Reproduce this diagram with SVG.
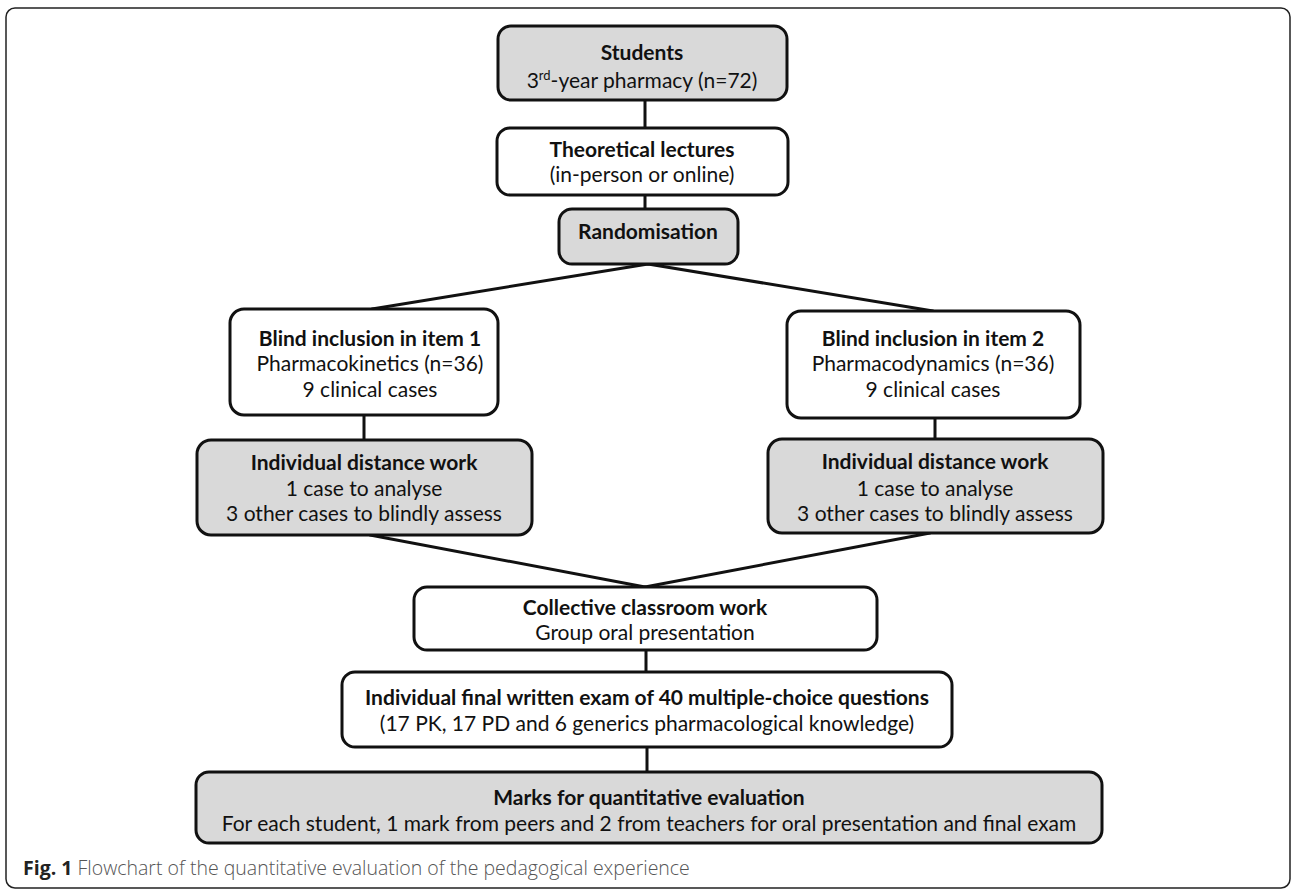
<svg xmlns="http://www.w3.org/2000/svg" width="1292" height="890" viewBox="0 0 1292 890">
<style>
.box{stroke:#111;stroke-width:3;}
.g{fill:#d9d9d9;}
.w{fill:#fff;}
.t{font-family:Lato,"Open Sans","DejaVu Sans",sans-serif;font-size:21px;fill:#111;text-anchor:middle;}
.b{font-weight:bold;}
.conn line{stroke:#111;stroke-width:3;stroke-linecap:round;}
.cap{font-family:"Open Sans","DejaVu Sans",sans-serif;font-size:19.5px;}
</style>
<rect x="6" y="8" width="1284" height="880" rx="9" fill="#fff" stroke="#222" stroke-width="1.5"/>
<g class="conn" id="connectors">
<line x1="645" y1="100" x2="645" y2="128"/>
<line x1="645" y1="195" x2="645" y2="209"/>
<line x1="648" y1="264" x2="372" y2="309"/>
<line x1="648" y1="264" x2="933" y2="311"/>
<line x1="364" y1="415" x2="364" y2="440"/>
<line x1="935" y1="418" x2="935" y2="439"/>
<line x1="370" y1="535" x2="645" y2="587"/>
<line x1="930" y1="533" x2="645" y2="587"/>
<line x1="646" y1="650" x2="646" y2="672"/>
<line x1="647" y1="747" x2="647" y2="772"/>
</g>
<g id="students">
<rect class="box g" x="498" y="26" width="289" height="74" rx="13"/>
<text class="t b" x="642" y="60">Students</text>
<text class="t" x="642" y="88">3<tspan font-size="13" dy="-8">rd</tspan><tspan dy="8">-year pharmacy (n=72)</tspan></text>
</g>
<g id="lectures">
<rect class="box w" x="497" y="128" width="291" height="67" rx="13"/>
<text class="t b" x="642" y="157">Theoretical lectures</text>
<text class="t" x="642" y="182">(in-person or online)</text>
</g>
<g id="randomisation">
<rect class="box g" x="559" y="209" width="179" height="55" rx="13"/>
<text class="t b" x="648" y="239">Randomisation</text>
</g>
<g id="item1">
<rect class="box w" x="230" y="309" width="268" height="106" rx="14"/>
<text class="t b" x="370" y="346">Blind inclusion in item 1</text>
<text class="t" x="370" y="371">Pharmacokinetics (n=36)</text>
<text class="t" x="370" y="397">9 clinical cases</text>
</g>
<g id="item2">
<rect class="box w" x="787" y="311" width="293" height="107" rx="14"/>
<text class="t b" x="933" y="346">Blind inclusion in item 2</text>
<text class="t" x="933" y="371">Pharmacodynamics (n=36)</text>
<text class="t" x="933" y="397">9 clinical cases</text>
</g>
<g id="distance1">
<rect class="box g" x="197" y="440" width="335" height="95" rx="14"/>
<text class="t b" x="364" y="470">Individual distance work</text>
<text class="t" x="364" y="496">1 case to analyse</text>
<text class="t" x="364" y="521">3 other cases to blindly assess</text>
</g>
<g id="distance2">
<rect class="box g" x="768" y="439" width="335" height="94" rx="14"/>
<text class="t b" x="935" y="469">Individual distance work</text>
<text class="t" x="935" y="496">1 case to analyse</text>
<text class="t" x="935" y="521">3 other cases to blindly assess</text>
</g>
<g id="collective">
<rect class="box w" x="414" y="587" width="463" height="63" rx="13"/>
<text class="t b" x="645" y="615">Collective classroom work</text>
<text class="t" x="645" y="640">Group oral presentation</text>
</g>
<g id="exam">
<rect class="box w" x="342" y="672" width="610" height="75" rx="13"/>
<text class="t b" x="647" y="705">Individual final written exam of 40 multiple-choice questions</text>
<text class="t" x="647" y="731">(17 PK, 17 PD and 6 generics pharmacological knowledge)</text>
</g>
<g id="marks">
<rect class="box g" x="196" y="772" width="906" height="71" rx="13"/>
<text class="t b" x="649" y="805">Marks for quantitative evaluation</text>
<text class="t" x="649" y="831">For each student, 1 mark from peers and 2 from teachers for oral presentation and final exam</text>
</g>
<text class="cap" x="23" y="875"><tspan font-weight="bold" fill="#222">Fig. 1</tspan><tspan fill="#555" font-weight="300"> Flowchart of the quantitative evaluation of the pedagogical experience</tspan></text>
</svg>
